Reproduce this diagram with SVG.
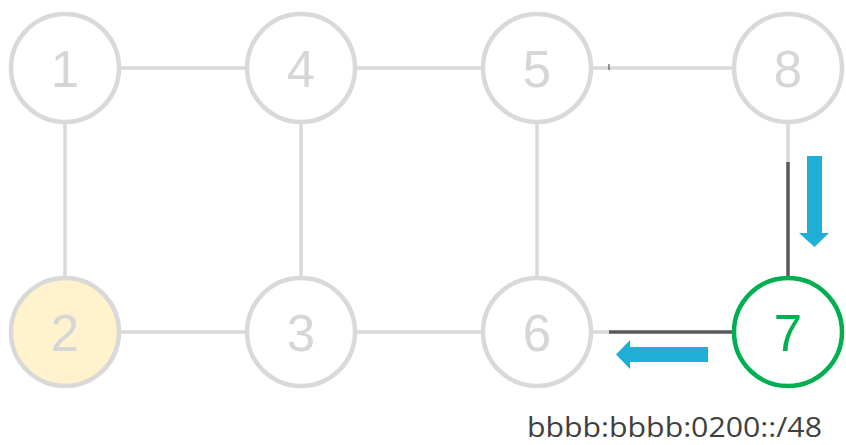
<svg xmlns="http://www.w3.org/2000/svg" width="846" height="445" viewBox="0 0 846 445">
<style>
.n{fill:#fff;stroke:#d9d9d9;stroke-width:4.5}
.t{font-family:"Liberation Sans",Arial,sans-serif;font-size:51px;fill:#d6d6d6;text-anchor:middle}
.e{stroke:#d9d9d9;stroke-width:3.5;fill:none}
.d{stroke:#595959;stroke-width:3.5;fill:none}
.a{fill:#1fafd6}
</style>
<g id="connectors">
<line class="e" x1="120" y1="68" x2="246" y2="68"/>
<line class="e" x1="356" y1="68" x2="482" y2="68"/>
<line class="e" x1="592" y1="68" x2="733" y2="68"/>
<line class="e" x1="65" y1="123" x2="65" y2="278"/>
<line class="e" x1="301" y1="123" x2="301" y2="278"/>
<line class="e" x1="537" y1="123" x2="537" y2="278"/>
<line class="e" x1="788" y1="123" x2="788" y2="162"/>
<line class="e" x1="120" y1="332" x2="246" y2="332"/>
<line class="e" x1="356" y1="332" x2="482" y2="332"/>
<line class="e" x1="592" y1="332" x2="609" y2="332"/>
<line class="d" x1="788" y1="162" x2="788" y2="276"/>
<line class="d" x1="609" y1="332" x2="733" y2="332"/>
<line stroke="#595959" stroke-width="1.2" x1="609" y1="64" x2="609" y2="70"/>
<polygon class="a" points="807,156 822,156 822,233 829,233 814.5,247 799,233 807,233"/>
<polygon class="a" points="708,347 708,362 630,362 630,369 616,354.5 630,340 630,347"/>
</g>
<g id="n1"><circle class="n" cx="65" cy="68" r="54"/><text class="t" x="65" y="87">1</text></g>
<g id="n4"><circle class="n" cx="301" cy="68" r="54"/><text class="t" x="301" y="87">4</text></g>
<g id="n5"><circle class="n" cx="537" cy="68" r="54"/><text class="t" x="537" y="87">5</text></g>
<g id="n8"><circle class="n" cx="788" cy="68" r="54"/><text class="t" x="788" y="87">8</text></g>
<g id="n2"><circle class="n" cx="65" cy="332" r="54" style="fill:#fff2cc"/><text class="t" x="65" y="351">2</text></g>
<g id="n3"><circle class="n" cx="301" cy="332" r="54"/><text class="t" x="301" y="351">3</text></g>
<g id="n6"><circle class="n" cx="537" cy="332" r="54"/><text class="t" x="537" y="351">6</text></g>
<g id="n7"><circle class="n" cx="788" cy="332" r="54" style="stroke:#00b050"/><text class="t" x="788" y="351" style="fill:#00b050">7</text></g>
<text x="527" y="437" textLength="295" lengthAdjust="spacingAndGlyphs" style="font-family:'Open Sans','Liberation Sans',sans-serif;font-size:28px;fill:#404040">bbbb:bbbb:0200::/48</text>
</svg>
